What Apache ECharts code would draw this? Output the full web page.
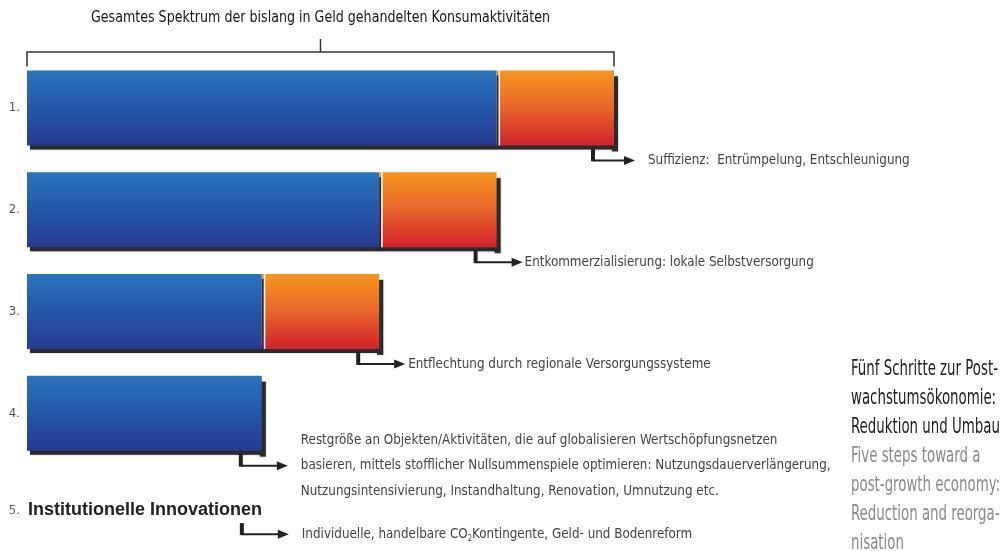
<!DOCTYPE html>
<html>
<head>
<meta charset="utf-8">
<script src="https://cdn.jsdelivr.net/npm/echarts@6/dist/echarts.min.js"></script>
<style>
	html, body { margin: 0; padding: 0; background: #fff; }
	#chart { width: 1004px; height: 551px; }
</style>
</head>
<body>
<div id="chart"></div>
<script>
	// Stufen 1-4, Balken: verbleibender Konsum (blau) + jeweils reduzierter Anteil (orange)
	const steps = ['1.', '2.', '3.', '4.'];
	const remaining = [80, 60, 40, 40];
	const reduced = [20, 20, 20, 0];
	const notes = [
		'Suffizienz:  Entrümpelung, Entschleunigung',
		'Entkommerzialisierung: lokale Selbstversorgung',
		'Entflechtung durch regionale Versorgungssysteme',
		'Restgröße an Objekten/Aktivitäten, die auf globalisieren Wertschöpfungsnetzen\nbasieren, mittels stofflicher Nullsummenspiele optimieren: Nutzungsdauerverlängerung,\nNutzungsintensivierung, Instandhaltung, Renovation, Umnutzung etc.'
	];
	const step5Label = '5.';
	const step5Title = 'Institutionelle Innovationen';
	const step5Note = 'Individuelle, handelbare CO{sub|2}Kontingente, Geld- und Bodenreform';
	const title = 'Gesamtes Spektrum der bislang in Geld gehandelten Konsumaktivitäten';
	const captionDe = ['Fünf Schritte zur Post-', 'wachstumsökonomie:', 'Reduktion und Umbau'];
	const captionEn = ['Five steps toward a', 'post-growth economy:', 'Reduction and reorga-', 'nisation'];

	const cond = '"DejaVu Sans Condensed", "Liberation Sans", sans-serif';
	const textGap = [55, 49, 50, 60];
	const barW = 75;

	const chart = echarts.init(document.getElementById('chart'));

	const blueGrad = new echarts.graphic.LinearGradient(0, 0, 0, 1, [
		{ offset: 0, color: '#2a74be' },
		{ offset: 0.5, color: '#2457a8' },
		{ offset: 1, color: '#263a90' }
	]);
	const orangeGrad = new echarts.graphic.LinearGradient(0, 0, 0, 1, [
		{ offset: 0, color: '#f5961f' },
		{ offset: 0.5, color: '#e8662a' },
		{ offset: 1, color: '#d2212b' }
	]);

	chart.setOption({
		animation: false,
		backgroundColor: '#fff',
		grid: { left: 27, right: 390, top: 57, bottom: 87 },
		xAxis: { type: 'value', min: 0, max: 100, show: false },
		yAxis: {
			type: 'category',
			inverse: true,
			data: steps,
			axisLine: { show: false },
			axisTick: { show: false },
			axisLabel: { color: '#555', fontSize: 13, fontFamily: cond, margin: 7 }
		},
		series: [
			{
				name: 'verbleibend', type: 'bar', stack: 'total', barWidth: barW, z: 5,
				itemStyle: { color: blueGrad },
				data: remaining
			},
			{
				name: 'reduziert', type: 'bar', stack: 'total', barWidth: barW, z: 5,
				itemStyle: { color: orangeGrad },
				data: reduced
			}
		]
	});

	// Klammer, Schatten, Pfeile und Texte an den Achsen ausrichten
	const g = [];
	const px = (v, i) => chart.convertToPixel({ gridIndex: 0 }, [v, i]);
	const left = px(0, 0)[0], right = px(100, 0)[0];
	const mid = (left + right) / 2;
	const firstTop = px(0, 0)[1] - barW / 2;
	const lineStyle = { stroke: '#333', lineWidth: 1.5 };
	g.push({ type: 'polyline', z: 10, shape: { points: [[left, firstTop - 4], [left, 52], [right, 52], [right, firstTop - 4]] }, style: Object.assign({ fill: null }, lineStyle) });
	g.push({ type: 'line', z: 10, shape: { x1: mid, y1: 52, x2: mid, y2: 39 }, style: lineStyle });
	g.push({ type: 'text', z: 10, x: mid, y: 18, scaleX: 0.88, style: { text: title, fill: '#151515', font: '16px ' + cond, align: 'center', verticalAlign: 'middle' } });

	function arrow(x, y0, y1, len) {
		g.push({ type: 'rect', z: 10, shape: { x: x - 2, y: y0, width: 4, height: y1 - y0 + 1 }, style: { fill: '#222' } });
		g.push({ type: 'line', z: 10, shape: { x1: x, y1: y1, x2: x + len - 8, y2: y1 }, style: { stroke: '#222', lineWidth: 2 } });
		g.push({ type: 'polygon', z: 10, shape: { points: [[x + len - 11, y1 - 4.5], [x + len, y1], [x + len - 11, y1 + 4.5]] }, style: { fill: '#222' } });
	}

	steps.forEach((s, i) => {
		const end = px(remaining[i] + reduced[i], i);
		const blueEnd = px(remaining[i], i)[0];
		const top = end[1] - barW / 2;
		const bottom = end[1] + barW / 2;
		// Schlagschatten unten und rechts
		g.push({ type: 'rect', z: 1, shape: { x: left + 3, y: bottom - 2, width: end[0] - left, height: 6 }, style: { fill: '#2b2b2b', shadowBlur: 2, shadowColor: 'rgba(0,0,0,0.4)' } });
		g.push({ type: 'rect', z: 1, shape: { x: end[0] - 2, y: top + 6, width: 6, height: barW }, style: { fill: '#2b2b2b', shadowBlur: 2, shadowColor: 'rgba(0,0,0,0.4)' } });
		if (reduced[i] > 0) {
			g.push({ type: 'rect', z: 10, shape: { x: blueEnd, y: top + 5, width: 2, height: barW - 5 }, style: { fill: '#2b2b2b' } });
			g.push({ type: 'rect', z: 10, shape: { x: blueEnd + 2, y: top, width: 1.5, height: barW }, style: { fill: '#fff' } });
		}
		const x = end[0] - 21;
		const ty = bottom + 15;
		arrow(x, bottom + 3, ty, i === 0 ? 42 : 47);
		const lines = notes[i].split('\n');
		lines.forEach((ln, k) => {
			g.push({
				type: 'text', z: 10, x: x + textGap[i], y: ty + (k - (lines.length > 1 ? 1 : 0)) * 25.5, scaleX: 0.95,
				style: { text: ln, fill: '#444', font: '14px ' + cond, verticalAlign: 'middle' }
			});
		});
	});

	// Stufe 5 ohne Balken
	const y5 = px(0, 3)[1] + 97;
	const x5 = px(36.6, 3)[0];
	g.push({ type: 'text', z: 10, x: left - 7, y: y5, style: { text: step5Label, fill: '#666', font: '13px ' + cond, align: 'right', verticalAlign: 'middle' } });
	g.push({ type: 'text', z: 10, x: left + 1, y: y5, style: { text: step5Title, fill: '#222', font: 'bold 18px "Liberation Sans", sans-serif', verticalAlign: 'middle' } });
	arrow(x5, y5 + 13, y5 + 24, 47);
	g.push({
		type: 'text', z: 10, x: x5 + 60, y: y5 + 24, scaleX: 0.95,
		style: {
			text: step5Note, fill: '#444', font: '14px ' + cond, verticalAlign: 'middle',
			rich: { sub: { fontSize: 8, fill: '#444', fontFamily: cond, padding: [10, 0, 0, 0] } }
		}
	});

	// Bildunterschrift rechts, schmal gesetzt
	const capFont = '21px ' + cond;
	const ctx = document.createElement('canvas').getContext('2d');
	ctx.font = capFont;
	const capScale = 147 / ctx.measureText(captionDe[0]).width;
	captionDe.concat(captionEn).forEach((ln, k) => {
		g.push({
			type: 'text', z: 10, x: 851, y: 370 + k * 29, scaleX: capScale,
			style: { text: ln, fill: k < captionDe.length ? '#222' : '#8a8a8a', font: capFont, verticalAlign: 'middle' }
		});
	});

	chart.setOption({ graphic: g });
</script>
</body>
</html>
